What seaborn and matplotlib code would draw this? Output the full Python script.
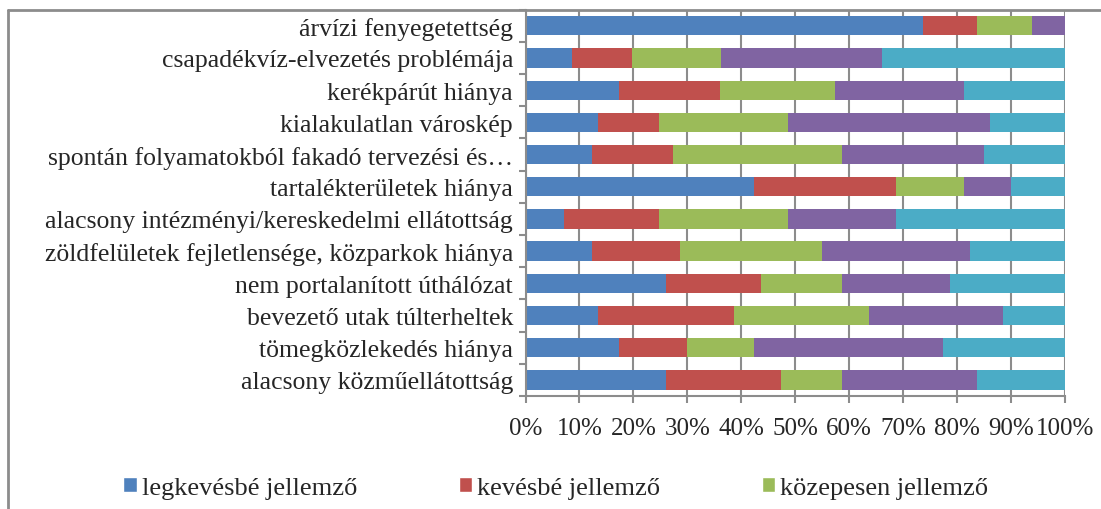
import numpy as np
import pandas as pd
import matplotlib
matplotlib.use("Agg")
import matplotlib.pyplot as plt
from matplotlib.lines import Line2D
from matplotlib.patches import Patch
from matplotlib.ticker import FixedLocator, PercentFormatter
import seaborn as sns

sns.set_style("white")
plt.rcParams['font.family'] = ['Liberation Serif', 'DejaVu Serif']

# kategóriák fentről lefelé
categories = [
    "árvízi fenyegetettség",
    "csapadékvíz-elvezetés problémája",
    "kerékpárút hiánya",
    "kialakulatlan városkép",
    "spontán folyamatokból fakadó tervezési és…",
    "tartalékterületek hiánya",
    "alacsony intézményi/kereskedelmi ellátottság",
    "zöldfelületek fejletlensége, közparkok hiánya",
    "nem portalanított úthálózat",
    "bevezető utak túlterheltek",
    "tömegközlekedés hiánya",
    "alacsony közműellátottság",
]

series_names = ["legkevésbé jellemző", "kevésbé jellemző", "közepesen jellemző",
                "jellemző", "leginkább jellemző"]

legkevesbe = [73.6, 8.6, 17.3, 13.5, 12.4, 42.4, 7.2, 12.4, 26.1, 13.5, 17.3, 26.1]
kevesbe    = [10.1, 11.2, 18.7, 11.2, 14.9, 26.3, 17.5, 16.2, 17.6, 25.1, 12.6, 21.3]
kozepesen  = [10.1, 16.4, 21.4, 23.9, 31.4, 12.5, 23.9, 26.4, 15.0, 25.0, 12.5, 11.3]
jellemzo   = [6.2, 29.9, 23.8, 37.5, 26.2, 8.7, 20.1, 27.4, 20.0, 25.0, 35.0, 25.0]
leginkabb  = [0.0, 33.9, 18.8, 13.9, 15.1, 10.1, 31.3, 17.6, 21.3, 11.4, 22.6, 16.3]

colors = ["#4F81BD", "#C0504D", "#9BBB59", "#8064A2", "#4BACC6"]

df = pd.DataFrame({"kategoria": categories})
vals = np.array([legkevesbe, kevesbe, kozepesen, jellemzo, leginkabb])
vals = vals / vals.sum(axis=0) * 100
cum = np.cumsum(vals, axis=0)
for i, name in enumerate(series_names):
    df[name] = cum[i]

fig = plt.figure(figsize=(11.01, 5.10), dpi=100)
ax = fig.add_axes([0.4773, 0.2216, 0.9673 - 0.4773, 0.979 - 0.2216])

# kumulált sávok hátulról előre
for i in range(len(series_names) - 1, -1, -1):
    sns.barplot(data=df, y="kategoria", x=series_names[i], orient="h",
                color=colors[i], width=0.6, ax=ax, saturation=1,
                linewidth=0)

ax.set_xlim(0, 100)
ax.set_ylim(len(categories) - 0.5, -0.5)
ax.set_xlabel("")
ax.set_ylabel("")
ax.xaxis.set_major_locator(FixedLocator(np.arange(0, 101, 10)))
ax.xaxis.set_major_formatter(PercentFormatter(decimals=0))
ax.grid(axis="x", color="#8c8c8c", linewidth=1.5)
ax.set_axisbelow(True)

for s in ["top", "right"]:
    ax.spines[s].set_visible(False)
for s in ["left", "bottom"]:
    ax.spines[s].set_color("#8c8c8c")
    ax.spines[s].set_linewidth(1.5)

ax.tick_params(axis="x", which="major", length=5, width=1.5, color="#8c8c8c",
               direction="out", pad=10, labelsize=18, bottom=True)
ax.tick_params(axis="y", which="major", length=0, pad=9, labelsize=18.5)
ax.yaxis.set_minor_locator(FixedLocator(np.arange(-0.5, len(categories), 1)))
ax.tick_params(axis="y", which="minor", length=5, width=1.5, color="#8c8c8c",
               direction="out", left=True)

# keret
fig.add_artist(Line2D([8 / 1101, 8 / 1101], [0, 499.5 / 510], color="#8c8c8c",
                      linewidth=2, transform=fig.transFigure))
fig.add_artist(Line2D([8 / 1101, 1], [499.5 / 510, 499.5 / 510], color="#8c8c8c",
                      linewidth=2, transform=fig.transFigure))

handles = [Patch(facecolor=colors[i], label=series_names[i]) for i in range(3)]
fig.legend(handles=handles, loc="center", bbox_to_anchor=(0.505, 0.042), ncol=3,
           frameon=False, fontsize=19, handlelength=0.5, handleheight=0.5,
           handletextpad=0.2, columnspacing=3.85)

fig.savefig("out.png", dpi=100)
